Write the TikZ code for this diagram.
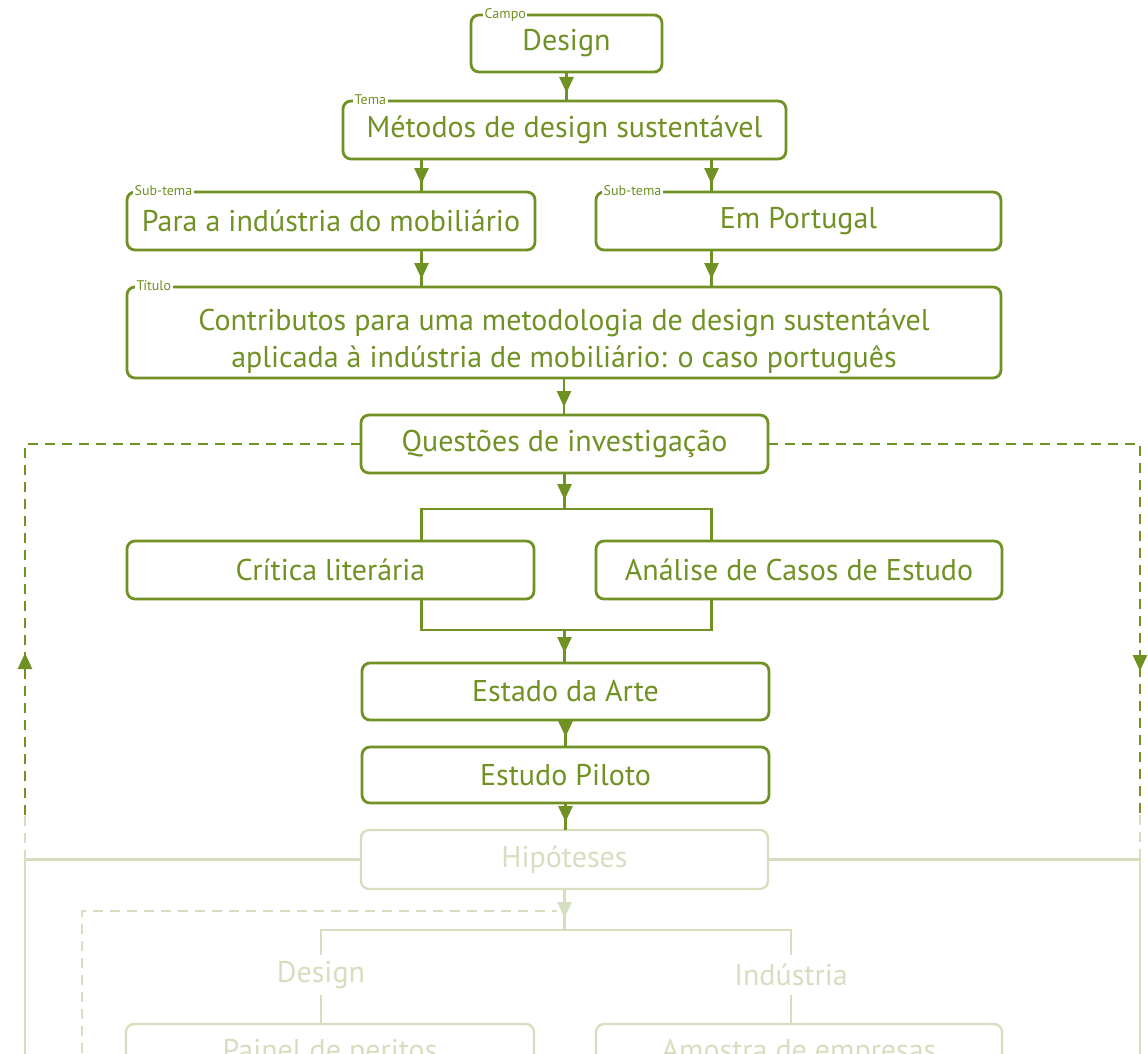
\documentclass[tikz,border=0pt]{standalone}
\usepackage{fontspec}
\setmainfont{PT Sans}
\usetikzlibrary{arrows.meta, calc, decorations.markings}

\definecolor{leaf}{RGB}{112,145,35}
\definecolor{mist}{RGB}{214,222,192}

\newcommand{\boxfont}{\fontsize{30}{37}\selectfont}
\newcommand{\tagfont}{\fontsize{14}{16}\selectfont}

\begin{document}
\begin{tikzpicture}[
    x=1pt, y=-1pt,
    box/.style={draw=leaf, line width=2.8pt, rounded corners=8pt, minimum height=58pt,
                inner sep=0pt, outer sep=0pt, align=center, text=leaf, font=\boxfont},
    palebox/.style={box, draw=mist, text=mist, line width=2.3pt},
    paletext/.style={text=mist, font=\boxfont, minimum height=40pt, inner sep=0pt},
    tag/.style={anchor=base west, fill=white, inner xsep=1.5pt, inner ysep=1pt, text=leaf, font=\tagfont},
    link/.style={draw=leaf, line width=2.8pt},
    palelink/.style={draw=mist, line width=2.3pt},
    loopline/.style={dash pattern=on 10pt off 7pt},
    flow/.style={link, postaction=decorate, decoration={markings,
                 mark=at position #1 with {\arrow{Triangle[width=14pt, length=16pt]}}}},
    flow/.default=-8pt,
    paleflow/.style={palelink, postaction=decorate, decoration={markings,
                 mark=at position #1 with {\arrow{Triangle[width=14pt, length=16pt]}}}},
    paleflow/.default=-8pt,
]
  \useasboundingbox (0,0) rectangle (1148,1054);

  % upper chain
  \node[box, minimum width=191pt, minimum height=57pt] (campo) at (566.5, 43.5) {Design};
  \node[tag] at ([xshift=12pt, yshift=-3.5pt]campo.north west) {Campo};

  \node[box, minimum width=443pt] (tema) at (564.5, 130) {Métodos de design sustentável};
  \node[tag] at ([xshift=10pt, yshift=-3.5pt]tema.north west) {Tema};

  \node[box, minimum width=408pt] (subind) at (331, 221) {Para a indústria do mobiliário};
  \node[tag] at ([xshift=6pt, yshift=-3.5pt]subind.north west) {Sub-tema};
  \node[box, minimum width=405pt] (subpt) at (798.5, 221) {Em Portugal};
  \node[tag] at ([xshift=6pt, yshift=-3.5pt]subpt.north west) {Sub-tema};

  \node[box, minimum width=874pt, minimum height=91pt] (titulo) at (564, 332.5)
    {\rule{0pt}{40pt}Contributos para uma metodologia de design sustentável\\aplicada à indústria de mobiliário: o caso português};
  \node[tag] at ([xshift=8pt, yshift=-3.5pt]titulo.north west) {Título};

  \node[box, minimum width=407pt] (questoes) at (564.5, 444) {Questões de investigação};
  \node[box, minimum width=407pt] (critica) at (330.5, 570) {Crítica literária};
  \node[box, minimum width=406pt] (analise) at (799, 570) {Análise de Casos de Estudo};
  \node[box, minimum width=407pt, minimum height=57pt] (estado) at (565.5, 691.5) {Estado da Arte};
  \node[box, minimum width=407pt, minimum height=56pt] (piloto) at (565.5, 775) {Estudo Piloto};

  % faded lower part
  \node[palebox, minimum width=407pt, minimum height=59pt] (hipoteses) at (564.5, 859.5) {Hipóteses};
  \node[paletext] (ramodesign) at (321, 975) {Design};
  \node[paletext] (ramoind) at (791, 975) {Indústria};
  \node[palebox, minimum width=408pt] (painel) at (330, 1053) {Painel de peritos};
  \node[palebox, minimum width=406pt] (amostra) at (799, 1053) {Amostra de empresas};

  \coordinate (tl) at ([xshift=-143pt]tema.south);
  \coordinate (tr) at ([xshift=147pt]tema.south);
  \coordinate (fork) at ($(questoes.south)+(0,36)$);
  \coordinate (join) at ($(critica.south -| questoes.south)+(0,31)$);
  \coordinate (hfork) at ($(hipoteses.south)+(0,41)$);
  \coordinate (lc) at (25, 859.5);
  \coordinate (lfade) at (25, 815);
  \coordinate (lb) at (25, 1070);
  \coordinate (rc) at (1140, 859.5);
  \coordinate (rfade) at (1140, 815);
  \coordinate (rb) at (1140, 1070);
  \coordinate (dl) at (82, 1070);

  \draw[flow] (campo.south) -- (campo.south |- tema.north);
  \draw[flow] (tl) -- (tl |- subind.north);
  \draw[flow] (tr) -- (tr |- subpt.north);
  \draw[flow] (tl |- subind.south) -- (tl |- titulo.north);
  \draw[flow] (tr |- subpt.south) -- (tr |- titulo.north);
  \draw[flow] (titulo.south) -- (titulo.south |- questoes.north);
  \draw[flow=-9pt] (questoes.south) -- (fork);
  \draw[link] (tl |- critica.north) -- (tl |- fork) -- (tr |- fork) -- (tr |- analise.north);
  \draw[link] (tl |- critica.south) -- (tl |- join) -- (tr |- join) -- (tr |- analise.south);
  \draw[flow=-10pt] (join) -- (join |- estado.north);
  \draw[flow=-10pt] (estado.south) -- (piloto.north);
  \draw[flow] (piloto.south) -- (piloto.south |- hipoteses.north);

  % feedback loop
  \draw[palelink] (hipoteses.west) -- (lc) -- (lb);
  \draw[palelink] (hipoteses.east) -- (rc) -- (rb);
  \draw[palelink, loopline] (lc) -- (lfade);
  \draw[palelink, loopline] (rfade) -- (rc);
  \draw[flow=162pt, loopline] (lfade) |- (questoes.west);
  \draw[flow=599pt, loopline] (questoes.east) -| (rfade);

  \draw[paleflow=-12pt] (hipoteses.south) -- (hfork);
  \draw[palelink] (ramodesign.north) -- (ramodesign.north |- hfork) -- (ramoind.north |- hfork) -- (ramoind.north);
  \draw[palelink] (ramodesign.south) -- (ramodesign.south |- painel.north);
  \draw[palelink] (ramoind.south) -- (ramoind.south |- amostra.north);
  \draw[palelink, loopline] (dl) |- ($(hipoteses.south)+(-8,22)$);
\end{tikzpicture}
\end{document}
